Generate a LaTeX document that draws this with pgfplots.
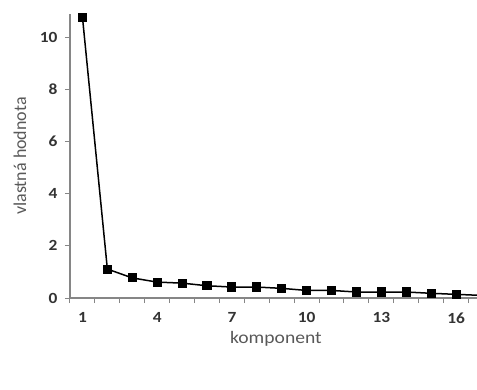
\documentclass[border=0pt]{standalone}
\usepackage{fontspec}
\setmainfont{Carlito}[FakeStretch=1.12]
\newfontfamily\plainfont{Carlito}
\usepackage{pgfplots}
\pgfplotsset{compat=1.18}
\definecolor{axgray}{HTML}{868686}
\definecolor{labgray}{HTML}{595959}
\begin{document}
\begin{tikzpicture}[x=1pt,y=1pt]
\path[use as bounding box] (0,0) rectangle (477,389);
\begin{axis}[
  at={(70pt,91pt)}, anchor=south west,
  scale only axis, width=407pt, height=284pt,
  xmin=0.5, xmax=16.84, ymin=0, ymax=10.89,
  axis lines=left, axis line style={-, axgray, line width=1.2pt},
  xtick={1,4,7,10,13,16},
  minor xtick={0.5,1.5,...,16.5},
  ytick={0,2,4,6,8,10},
  major x tick style={draw=none},
  every minor tick/.style={axgray, line width=1pt},
  minor tick length=5pt,
  tick align=outside,
  major tick length=5pt,
  ytick style={axgray, line width=1pt},
  tick label style={font=\fontsize{15.5}{16}\selectfont\bfseries, color=black!80},
  yticklabel style={xshift=-4pt},
  xticklabel style={yshift=-6pt},
  /pgf/number format/assume math mode=true,
  xlabel={komponent}, ylabel={vlastná hodnota},
  xlabel style={font=\fontsize{17.5}{18}\selectfont, color=labgray, at={(axis description cs:0.506,0)}, anchor=north, yshift=-30pt},
  ylabel style={font=\plainfont\fontsize{18}{19}\selectfont, color=labgray, at={(axis description cs:-0.1081,0.5)}, anchor=base},
  clip=true,
]
\addplot[black, line width=1.5pt, mark=square*, mark size=3.8pt, mark options={solid}] coordinates {
(1,10.77) (2,1.11) (3,0.77) (4,0.61) (5,0.57) (6,0.47) (7,0.42) (8,0.42)
(9,0.37) (10,0.29) (11,0.29) (12,0.23) (13,0.23) (14,0.23) (15,0.18) (16,0.14) (17,0.10)
};
\end{axis}
\end{tikzpicture}
\end{document}
